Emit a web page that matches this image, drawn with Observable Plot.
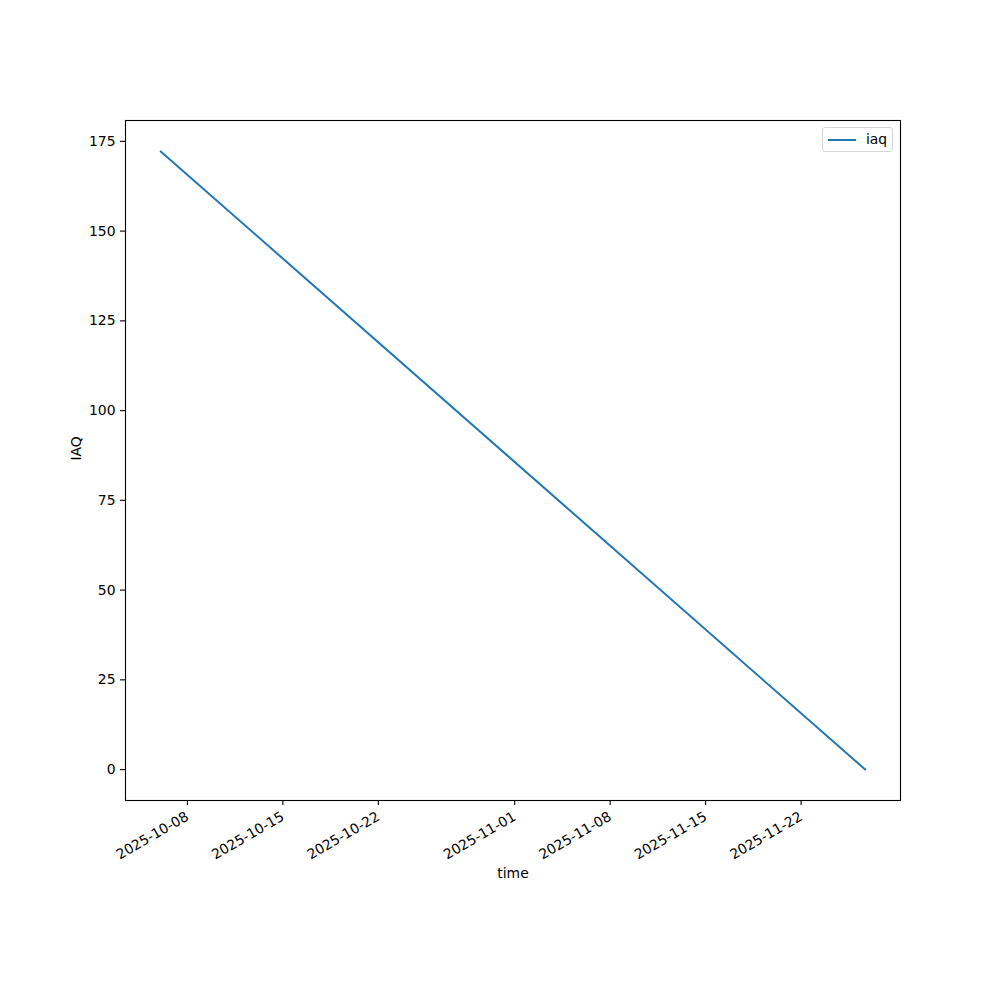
<!DOCTYPE html>
<html>
<head>
<meta charset="utf-8">
<script src="https://cdn.jsdelivr.net/npm/d3@7"></script>
<script src="https://cdn.jsdelivr.net/npm/@observablehq/plot@0.6"></script>
<style>
  html, body { margin: 0; padding: 0; background: #fff; }
  #wrap { position: relative; width: 1000px; height: 1000px; font-family: "DejaVu Sans", sans-serif; }
  #legend { position: absolute; left: 822px; top: 127px; width: 71px; height: 25px; box-sizing: border-box;
    border: 1px solid #d6d6d6; border-radius: 3px; background: rgba(255,255,255,0.8);
    font-size: 13.9px; color: #000; }
  #legend .sw { position: absolute; left: 5px; top: 11px; width: 28px; height: 2px; background: #1f77b4; }
  #legend .lb { position: absolute; left: 43px; top: 3px; }
</style>
</head>
<body>
<div id="wrap"></div>
<script>
// Data
const times = ["2025-10-06T01:00:00Z", "2025-11-26T17:00:00Z"];
const iaq = [172.2, 0];
const seriesName = "iaq";
const xTickLabels = ["2025-10-08", "2025-10-15", "2025-10-22", "2025-11-01", "2025-11-08", "2025-11-15", "2025-11-22"];
const yTickValues = [0, 25, 50, 75, 100, 125, 150, 175];
const xLabel = "time";
const yLabel = "IAQ";

const data = times.map((t, i) => ({time: new Date(t), value: iaq[i]}));
const pad = ([a, b], f) => [a - (b - a) * f, b + (b - a) * f];
const [t0, t1] = d3.extent(data, d => +d.time);
const xDomain = pad([t0, t1], 0.05).map(v => new Date(v));
const yDomain = pad(d3.extent(data, d => d.value), 0.05);
const xTicks = xTickLabels.map(s => new Date(s + "T00:00:00Z"));

const chart = Plot.plot({
  width: 1000,
  height: 1000,
  marginLeft: 125,
  marginRight: 100,
  marginTop: 120,
  marginBottom: 200,
  style: {fontFamily: "DejaVu Sans, sans-serif", fontSize: "13.9px", color: "#000", background: "#fff"},
  x: {type: "utc", domain: xDomain},
  y: {domain: yDomain},
  marks: [
    Plot.line(data, {x: "time", y: "value", stroke: "#1f77b4", strokeWidth: 2}),
    Plot.frame({stroke: "#000", strokeWidth: 1.1}),
    Plot.axisX({ticks: xTicks, tickFormat: d3.utcFormat("%Y-%m-%d"), tickRotate: -30, tickSize: 5, tickPadding: 10, label: null, stroke: "#000", strokeWidth: 1.1, fontSize: 13.9}),
    Plot.axisY({ticks: yTickValues, tickSize: 5, tickPadding: 5, label: null, stroke: "#000", strokeWidth: 1.1, fontSize: 13.9}),
    Plot.text([xLabel], {frameAnchor: "bottom", dy: 77, fontSize: 13.9, fill: "#000"}),
    Plot.text([yLabel], {frameAnchor: "left", dx: -49, rotate: -90, fontSize: 13.9, fill: "#000"})
  ]
});

const wrap = document.getElementById("wrap");
wrap.appendChild(chart);
const legend = document.createElement("div");
legend.id = "legend";
legend.innerHTML = `<div class="sw"></div><div class="lb">${seriesName}</div>`;
wrap.appendChild(legend);
</script>
</body>
</html>
